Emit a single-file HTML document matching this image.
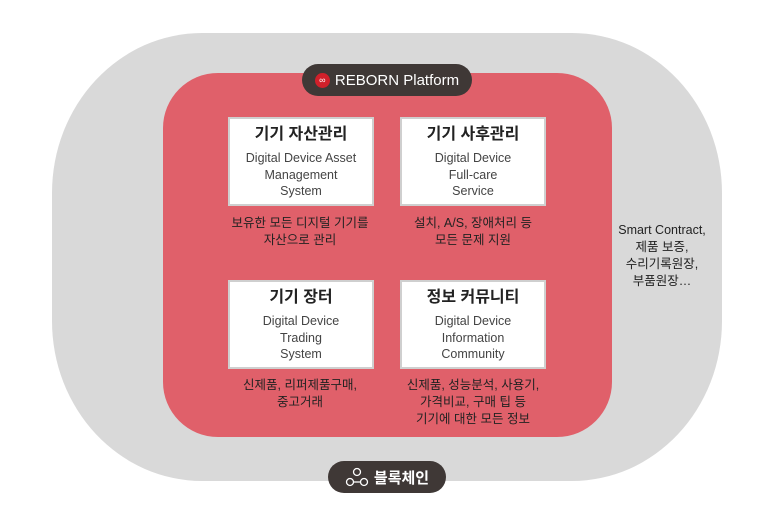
<!DOCTYPE html>
<html><head><meta charset="utf-8"><style>
body{margin:0;width:773px;height:514px;background:#fff;position:relative;overflow:hidden;font-family:"Liberation Sans","Noto Sans CJK KR",sans-serif;color:#3a3a3a}
.a{position:absolute}
.outer{left:52px;top:33px;width:670px;height:448px;background:#d9d9d9;border-radius:150px/160px}
.red{left:163px;top:73px;width:449px;height:364px;background:#e0606a;border-radius:55px}
.box{position:absolute;width:142px;height:85px;background:#fff;border:2px solid #cfcfcf;text-align:center;font-size:12.5px;line-height:16.5px;color:#444}
.box b{display:block;font-size:16px;font-weight:bold;color:#222;margin:6px 0 5px;line-height:20px}
.cap{position:absolute;width:180px;text-align:center;font-size:12.5px;line-height:17px;color:#222}
.pill{background:#3f3836;color:#fff;border-radius:17px;font-size:15px;display:flex;align-items:center;justify-content:center;gap:5px}
</style></head><body>
<div class="a outer"></div>
<div class="a red"></div>
<div class="a pill" style="left:302px;top:64px;width:170px;height:32px"><span style="display:inline-block;width:15px;height:15px;border-radius:50%;background:#d0202a;color:#fff;font-size:9px;line-height:15px;text-align:center">∞</span>REBORN Platform</div>
<div class="box" style="left:228px;top:117px"><b>기기 자산관리</b>Digital Device Asset<br>Management<br>System</div>
<div class="box" style="left:400px;top:117px"><b>기기 사후관리</b>Digital Device<br>Full-care<br>Service</div>
<div class="box" style="left:228px;top:280px"><b>기기 장터</b>Digital Device<br>Trading<br>System</div>
<div class="box" style="left:400px;top:280px"><b>정보 커뮤니티</b>Digital Device<br>Information<br>Community</div>
<div class="cap" style="left:210px;top:215px">보유한 모든 디지털 기기를<br>자산으로 관리</div>
<div class="cap" style="left:383px;top:215px">설치, A/S, 장애처리 등<br>모든 문제 지원</div>
<div class="cap" style="left:210px;top:377px">신제품, 리퍼제품구매,<br>중고거래</div>
<div class="cap" style="left:383px;top:377px">신제품, 성능분석, 사용기,<br>가격비교, 구매 팁 등<br>기기에 대한 모든 정보</div>
<div class="cap" style="left:587px;top:222px;width:150px">Smart Contract,<br>제품 보증,<br>수리기록원장,<br>부품원장…</div>
<div class="a pill" style="left:328px;top:461px;width:118px;height:32px;font-weight:bold"><svg width="24" height="20" viewBox="0 0 24 20"><g fill="none" stroke="#fff" stroke-width="1.3"><circle cx="12" cy="5" r="3.5"/><circle cx="5" cy="15" r="3.5"/><circle cx="19" cy="15" r="3.5"/><path d="M9 15h6"/></g></svg>블록체인</div>
</body></html>
